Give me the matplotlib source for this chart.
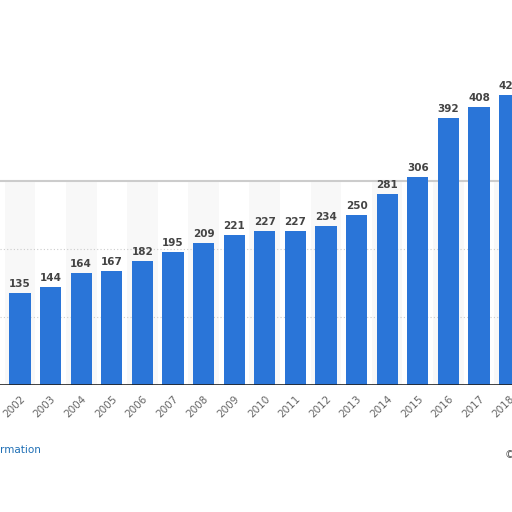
import matplotlib
matplotlib.use("Agg")
import matplotlib.pyplot as plt

years = ["2001","2002","2003","2004","2005","2006","2007","2008","2009","2010",
         "2011","2012","2013","2014","2015","2016","2017","2018"]
values = [122,135,144,164,167,182,195,209,221,227,227,234,250,281,306,392,408,426]

fig = plt.figure(figsize=(5.12,5.12), dpi=100)
ax = fig.add_axes([0, 127/512, 1, 385/512])
x = list(range(-1, len(years)-1))
for i in range(-1, 17):
    if i % 2 == 0:
        ax.axvspan(i-0.5, i+0.5, ymax=(300/566), color="#f8f8f8", zorder=0, lw=0)
ax.bar(x, values, width=0.69, color="#2a75d8", zorder=2)
for xi, v in zip(x[1:], values[1:]):
    ax.text(xi, v+6, str(v), ha="center", va="bottom", fontsize=7.5,
            fontweight="bold", color="#444444", zorder=3)
for g in (100, 200):
    ax.axhline(g, color="#cccccc", ls=(0,(1,2)), lw=0.8, zorder=1)
ax.axhline(300, color="#cccccc", lw=1.5, zorder=1)
ax.axhline(0, color="#222222", lw=1.2, zorder=3)
ax.set_xlim(-0.654, 16.08)
ax.set_ylim(0, 566)
ax.set_xticks(x[1:])
ax.set_xticklabels(years[1:], rotation=45, ha="right", rotation_mode="anchor",
                   fontsize=7.5, color="#666666")
ax.tick_params(length=0, pad=6)
ax.set_yticks([])
for s in ax.spines.values():
    s.set_visible(False)
fig.text(0.0, 62/512, "rmation", color="#1f6fb5", fontsize=7.5, ha="left", va="center")
fig.text(0.985, 57/512, "©", color="#555555", fontsize=7.5, ha="left", va="center")
fig.savefig("out.png", dpi=100)
